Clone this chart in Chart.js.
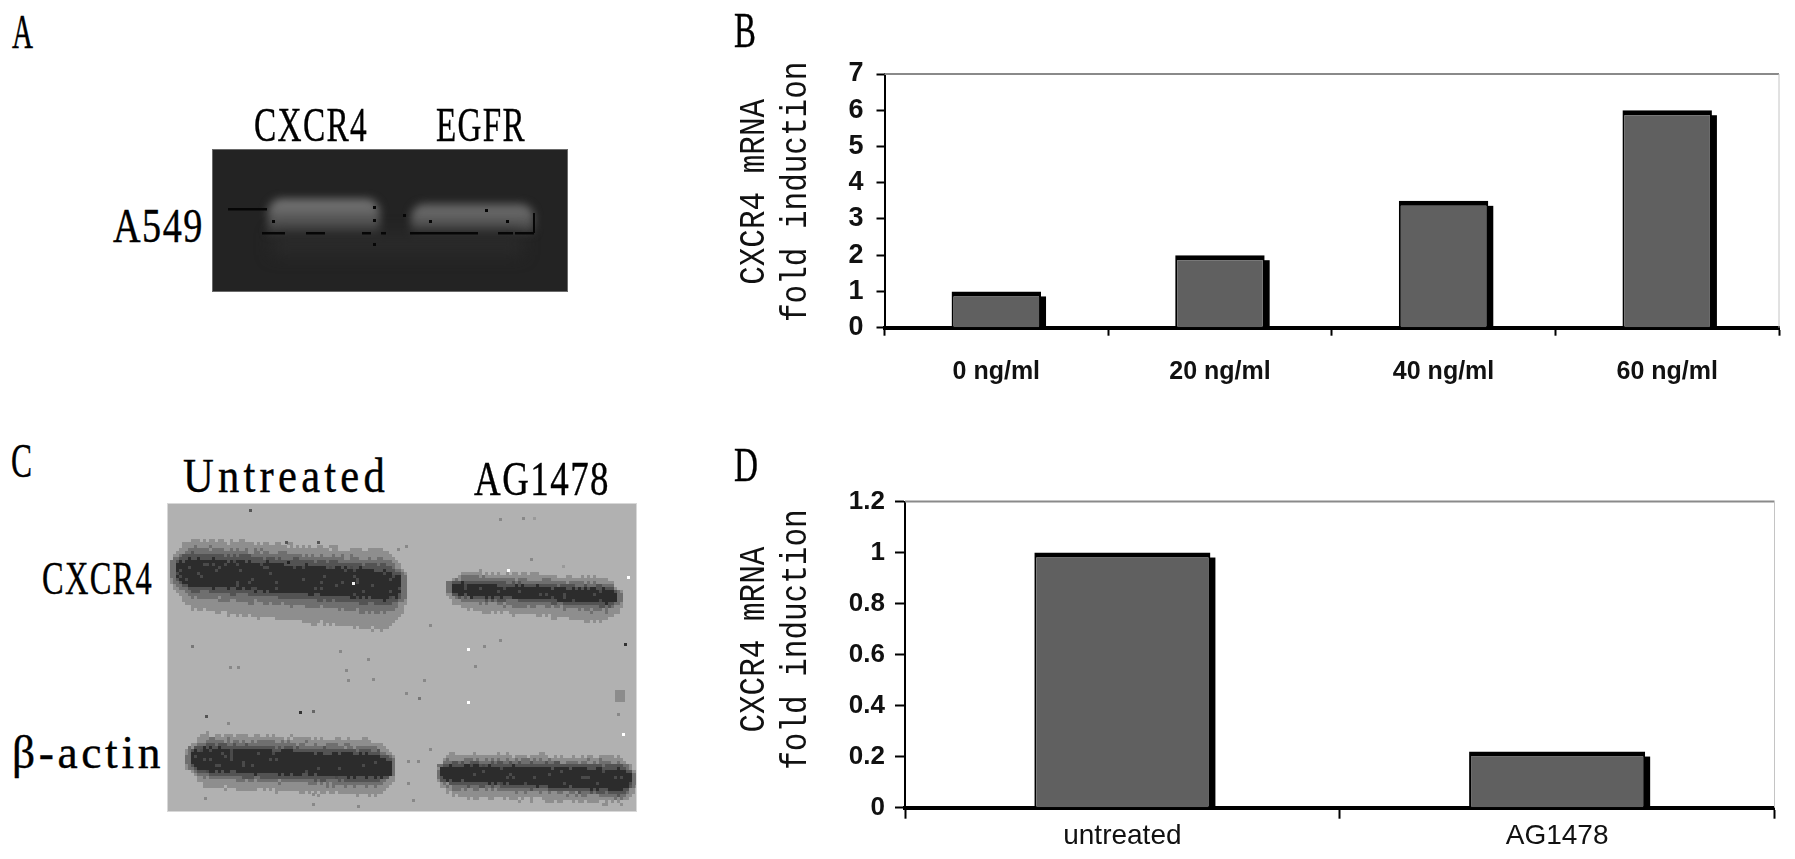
<!DOCTYPE html>
<html><head><meta charset="utf-8">
<script src="https://cdn.jsdelivr.net/npm/chart.js@4"></script>
<style>
html,body{margin:0;padding:0;background:#fff;overflow:hidden}
#page{position:relative;width:1795px;height:859px;background:#fff;overflow:hidden}
canvas{position:absolute;display:block}
.lab{position:absolute;font-family:"Liberation Serif",serif;color:#000;line-height:1;white-space:pre;transform-origin:0 0;-webkit-text-stroke:.4px #000}
</style></head>
<body><div id="page">
<canvas id="gelA" width="356" height="143" style="left:212px;top:149px"></canvas>
<canvas id="gelC" width="470" height="309" style="left:167px;top:503px"></canvas>
<canvas id="chartB" width="1075" height="420" style="left:720px;top:0"></canvas>
<canvas id="chartD" width="1075" height="419" style="left:720px;top:440px"></canvas>
</div>
<script>
// ---- data ----
const categoriesB = ['0 ng/ml', '20 ng/ml', '40 ng/ml', '60 ng/ml'];
const valuesB = [1, 2, 3.5, 6];
const categoriesD = ['untreated', 'AG1478'];
const valuesD = [1, 0.22];
const axisTitle = ['CXCR4 mRNA', 'fold induction'];

// ---- text labels of the figure panels: text, x, y, width, cap height, letter spacing (em) ----
const labels = [
  ['A', 12, 17, 21, 32, 0], ['B', 734, 14, 22, 33, 0], ['C', 11, 446, 21, 32, 0], ['D', 734, 450, 24, 32, 0],
  ['CXCR4', 254, 110, 114, 32, 0.04], ['EGFR', 436, 110, 90, 32, 0.04], ['A549', 113, 211, 91, 32, 0.04],
  ['Untreated', 183, 461, 206, 32, 0.1], ['AG1478', 474, 464, 136, 32, 0.04],
  ['CXCR4', 42, 563, 111, 31, 0.04], ['β-actin', 12, 737, 152, 31, 0.08]
];
const page = document.getElementById('page');
labels.forEach(([t, x, y, w, h, ls]) => {
  const s = document.createElement('span');
  s.className = 'lab';
  s.textContent = t;
  const fs = h / 0.66;
  s.style.fontSize = fs + 'px';
  s.style.letterSpacing = ls + 'em';
  s.style.left = x + 'px';
  s.style.top = (y - 0.1775 * fs) + 'px';
  page.appendChild(s);
  s.style.transform = 'scaleX(' + (w / s.getBoundingClientRect().width) + ')';
});

// ---- photographic panels (decorative, not data) ----
function hash(a, b) { const v = Math.sin(a * 12.9898 + b * 78.233) * 43758.5453; return v - Math.floor(v); }

(function gelA() {
  const c = document.getElementById('gelA').getContext('2d');
  c.fillStyle = '#232323'; c.fillRect(0, 0, 356, 143);
  c.strokeStyle = '#6a6a6a'; c.lineWidth = 1; c.strokeRect(.5, .5, 355, 142);
  function glow(x, y, w, h, top, mid, low) {
    c.save(); c.filter = 'blur(4px)';
    const g = c.createLinearGradient(0, y, 0, y + h);
    g.addColorStop(0, top); g.addColorStop(.35, mid); g.addColorStop(1, low);
    c.fillStyle = g;
    c.beginPath(); c.roundRect(x, y, w, h, [14, 14, 4, 4]); c.fill();
    c.restore();
  }
  glow(56, 50, 112, 35, '#7c7c7c', '#646464', '#3e3e3e');
  glow(199, 55, 123, 29, '#686868', '#666666', '#404040');
  c.save(); c.filter = 'blur(8px)'; c.fillStyle = '#2a2a2a'; c.fillRect(60, 84, 250, 22); c.restore();
  c.fillStyle = '#060606';
  c.fillRect(16, 59, 39, 2.5);
  [[50, 23], [94, 19], [150, 9], [169, 5], [198, 68], [286, 15], [303, 19]].forEach(([x, w]) => c.fillRect(x, 83, w, 2.5));
  c.fillRect(321, 64, 2, 20);
  [[161, 57], [161, 70], [161, 94], [60, 71], [191, 65], [217, 71], [294, 71], [273, 60]].forEach(([x, y]) => c.fillRect(x, y, 3, 3));
})();

(function gelC() {
  const W = 470, H = 309, cell = 3;
  const c = document.getElementById('gelC').getContext('2d');
  c.fillStyle = '#b1b1b1'; c.fillRect(0, 0, W, H);
  const bands = [
    {x0: 0, x1: 241, y0: 66, y1: 82, h0: 18, h1: 19, up: 15, dn0: 18, dn1: 28, t: 24},
    {x0: 277, x1: 455, y0: 84, y1: 93, h0: 8, h1: 9, up: 10, dn0: 12, dn1: 17, t: 18},
    {x0: 16, x1: 229, y0: 254, y1: 263, h0: 15, h1: 15, up: 11, dn0: 13, dn1: 15, t: 22},
    {x0: 267, x1: 470, y0: 268, y1: 276, h0: 10, h1: 14, up: 9, dn0: 13, dn1: 10, t: 18}
  ];
  for (let py = 0; py < H; py += cell) for (let px = 0; px < W; px += cell) {
    let col = null;
    for (const b of bands) {
      if (px < b.x0 || px > b.x1) continue;
      const f = (px - b.x0) / (b.x1 - b.x0);
      const e = Math.min(1, Math.max(0, Math.min(px - b.x0, b.x1 - px) / b.t));
      if (e < .08) continue;
      const taper = Math.sqrt(e);
      const yc = b.y0 + (b.y1 - b.y0) * f;
      const hc = (b.h0 + (b.h1 - b.h0) * f) * taper;
      const dn = (b.dn0 + (b.dn1 - b.dn0) * f) * taper;
      const up = b.up * taper;
      const d = py - yc;
      const n = (hash(px, py) - .5) * 5;
      const a = Math.abs(d);
      if (e > .3 && a + n * .6 < hc * .78) col = hash(py, px) > .93 ? '#4a4a4a' : '#2c2c2c';
      else if (e > .3 && a + n * .6 < hc + 1) col = '#535353';
      else if (d < 0 ? a + n < hc + up * .45 : a + n < hc + dn * .35) col = '#6f6f6f';
      else if (d < 0 ? a + n < hc + up : a + n < hc + dn) col = '#8e8e8e';
    }
    if (col) { c.fillStyle = col; c.fillRect(px, py, cell, cell); }
  }
  const specks = [[82,6,'#555'],[332,15,'#888'],[355,14,'#888'],[366,14,'#999'],[150,38,'#555'],[230,45,'#888'],[238,42,'#888'],[363,55,'#888'],[395,62,'#999'],
    [118,38,'#555'],[120,58,'#222'],[185,79,'#eee'],[340,66,'#fff'],[460,73,'#fff'],[262,121,'#888'],[24,142,'#777'],[300,145,'#fff'],[316,142,'#888'],[332,136,'#888'],
    [457,140,'#333'],[62,163,'#888'],[70,163,'#888'],[172,147,'#888'],[200,155,'#888'],[238,189,'#888'],[180,176,'#888'],[205,175,'#888'],[178,166,'#888'],[307,162,'#888'],
    [256,176,'#888'],[251,194,'#777'],[300,198,'#fff'],[132,208,'#333'],[145,207,'#666'],[38,212,'#555'],[60,219,'#888'],[450,210,'#888'],[455,230,'#fff'],[262,245,'#888'],
    [240,257,'#888'],[250,257,'#888'],[240,279,'#888'],[245,296,'#888'],[145,290,'#888'],[145,300,'#888'],[190,302,'#888'],[37,294,'#888']];
  specks.forEach(([x, y, k]) => { c.fillStyle = k; c.fillRect(x, y, 3, 3); });
  c.fillStyle = '#8c8c8c'; c.fillRect(448, 187, 10, 12);
  c.strokeStyle = '#d8d8d8'; c.lineWidth = 1; c.strokeRect(.5, .5, W - 1, H - 1);
})();

// ---- charts ----
const framePlugin = {
  id: 'frame',
  beforeDraw(chart, args, o) {
    const y = chart.scales.y;
    if (!y.__patched) {
      const orig = y.drawTitle;
      y.drawTitle = function () {
        const ctx = this.ctx;
        ctx.save(); ctx.scale(1.2, 1); ctx.translate(0, o.titleShift); orig.call(this); ctx.restore();
      };
      y.__patched = true;
    }
  },
  beforeDatasetsDraw(chart) {
    const {ctx, chartArea: a} = chart;
    ctx.save();
    ctx.strokeStyle = '#8a8a8a'; ctx.lineWidth = 2;
    ctx.beginPath(); ctx.moveTo(a.left, a.top); ctx.lineTo(a.right, a.top); ctx.stroke();
    ctx.strokeStyle = '#c4c4c4'; ctx.lineWidth = 1;
    ctx.beginPath(); ctx.moveTo(a.right, a.top); ctx.lineTo(a.right, a.bottom); ctx.stroke();
    // the offset black side of each bar, from the bar element's own geometry
    ctx.fillStyle = '#000';
    chart.getDatasetMeta(0).data.forEach(bar => {
      const p = bar.getProps(['x', 'y', 'width', 'base'], true);
      ctx.fillRect(p.x + p.width / 2 - 1, p.y + 5, 6, p.base - p.y - 5);
    });
    ctx.restore();
  }
};

function makeChart(id, cats, vals, cfg) {
  return new Chart(document.getElementById(id), {
    type: 'bar',
    plugins: [framePlugin],
    data: {labels: cats, datasets: [{
      data: vals,
      backgroundColor: '#606060',
      borderColor: '#000',
      borderWidth: {top: 5, left: 2, right: 2, bottom: 0},
      borderSkipped: false,
      barPercentage: 1,
      categoryPercentage: cfg.cat
    }]},
    options: {
      responsive: false, animation: false, devicePixelRatio: 1,
      layout: {padding: {top: cfg.top, right: cfg.right, left: 0, bottom: 0}},
      plugins: {legend: {display: false}, tooltip: {enabled: false}, frame: {titleShift: cfg.shift}},
      scales: {
        x: {
          grid: {drawOnChartArea: false, offset: true, tickLength: cfg.xTick, tickColor: '#000', tickWidth: 2},
          border: {color: '#000', width: 4},
          ticks: {color: '#111', font: {family: '"Liberation Sans"', size: cfg.xFont, weight: cfg.xWeight}, padding: cfg.xPad, maxRotation: 0},
          afterFit(s) { s.height = cfg.xH; }
        },
        y: {
          min: 0, max: cfg.max,
          grid: {drawOnChartArea: false, tickLength: cfg.yTick, tickColor: '#000', tickWidth: 2},
          border: {color: '#000', width: 2},
          ticks: {stepSize: cfg.step, color: '#111', font: {family: '"Liberation Sans"', size: cfg.yFont, weight: 'bold'}, padding: cfg.yPad,
            callback: v => String(+v.toFixed(1))},
          title: {display: true, text: axisTitle, color: '#111',
            font: {family: '"Liberation Mono"', size: 31, lineHeight: '34.8px'}, padding: {top: 10.9, bottom: 0}},
          afterFit(s) { s.width = cfg.yW; }
        }
      }
    }
  });
}
makeChart('chartB', categoriesB, valuesB, {top: 74, right: 16, cat: .4, max: 7, step: 1, xH: 92.3, yW: 164.5,
  xTick: 8, yTick: 8, xFont: 25, xWeight: 'bold', xPad: 21, yFont: 27, yPad: 13, shift: -9});
makeChart('chartD', categoriesD, valuesD, {top: 61.5, right: 20.5, cat: .405, max: 1.2, step: .2, xH: 51.3, yW: 185,
  xTick: 11, yTick: 10, xFont: 28, xWeight: 'normal', xPad: 1, yFont: 26, yPad: 10, shift: -15});
</script>
</body></html>
